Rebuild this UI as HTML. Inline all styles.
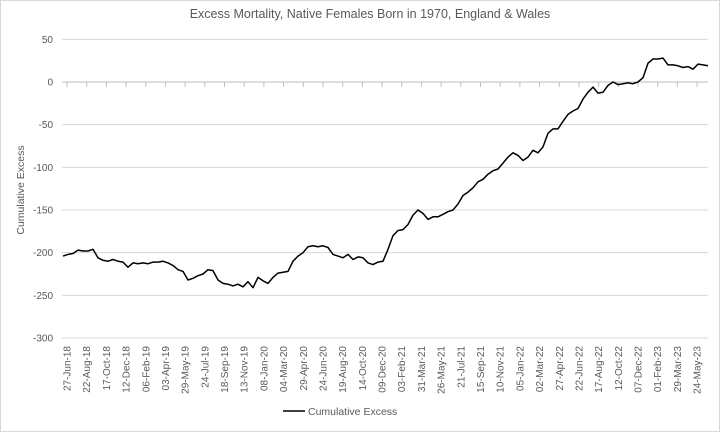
<!DOCTYPE html>
<html><head><meta charset="utf-8"><style>
body{margin:0;background:#fff;}
svg text{font-family:"Liberation Sans",sans-serif;fill:#595959;}
</style></head><body>
<svg id="chart" width="720" height="432" viewBox="0 0 720 432" xmlns="http://www.w3.org/2000/svg">
<rect x="0.5" y="0.5" width="719" height="431" fill="#fff" stroke="#d9d9d9"/>
<text x="370" y="18" text-anchor="middle" font-size="12.5">Excess Mortality, Native Females Born in 1970, England &amp; Wales</text>
<text transform="translate(24,190) rotate(-90)" text-anchor="middle" font-size="10.5">Cumulative Excess</text>
<g id="grid"></g><g id="yt"></g><g id="xt"></g><g id="ln"></g>
<line x1="283" y1="411" x2="305" y2="411" stroke="#000" stroke-width="1.6"/>
<text x="308" y="415" font-size="10.5">Cumulative Excess</text>
</svg>
<script>
const yTicks=[50,0,-50,-100,-150,-200,-250,-300];
const xLabels=["27-Jun-18","22-Aug-18","17-Oct-18","12-Dec-18","06-Feb-19","03-Apr-19","29-May-19","24-Jul-19","18-Sep-19","13-Nov-19","08-Jan-20","04-Mar-20","29-Apr-20","24-Jun-20","19-Aug-20","14-Oct-20","09-Dec-20","03-Feb-21","31-Mar-21","26-May-21","21-Jul-21","15-Sep-21","10-Nov-21","05-Jan-22","02-Mar-22","27-Apr-22","22-Jun-22","17-Aug-22","12-Oct-22","07-Dec-22","01-Feb-23","29-Mar-23","24-May-23"];
const values=[-204,-202,-201,-197,-198,-198,-196,-206,-209,-210,-208,-210,-211,-217,-212,-213,-212,-213,-211,-211,-210,-212,-215,-220,-222,-232,-230,-227,-225,-220,-221,-232,-236,-237,-239,-237,-240,-234,-241,-229,-233,-236,-229,-224,-223,-222,-210,-204,-200,-193,-192,-193,-192,-194,-202,-204,-206,-202,-208,-205,-206,-212,-214,-211,-210,-196,-180,-174,-173,-167,-156,-150,-154,-161,-158,-158,-155,-152,-150,-143,-133,-129,-124,-117,-114,-108,-104,-102,-95,-88,-83,-86,-92,-88,-80,-83,-76,-60,-55,-55,-46,-38,-34,-31,-20,-12,-6,-13,-12,-4,0,-3,-2,-1,-2,0,5,22,27,27,28,20,20,19,17,18,15,21,20,19];
const NS="http://www.w3.org/2000/svg";
const X0=62,X1=708,Y=v=>82-(v)*42.667/50;
const xl=i=>67+i*19.69;
const xv=i=>63+i*(708-63)/(values.length-1);
function mk(t,a,p){const e=document.createElementNS(NS,t);for(const k in a)e.setAttribute(k,a[k]);p.appendChild(e);return e;}
const grid=document.getElementById('grid'),yt=document.getElementById('yt'),xt=document.getElementById('xt'),ln=document.getElementById('ln');
yTicks.forEach(v=>{
 const g=mk('line',{x1:X0,x2:X1,y1:Y(v),y2:Y(v),stroke:v===0?'#bfbfbf':'#d9d9d9','stroke-width':1},grid);
 
 
 const t=mk('text',{x:53,y:Y(v)+3.5,'text-anchor':'end','font-size':10},yt);t.textContent=v;
 
 
});
xLabels.forEach((s,i)=>{
 const tk=mk('line',{x1:xl(i),x2:xl(i),y1:82,y2:87,stroke:'#bfbfbf'},xt);
 
 
 const t=mk('text',{transform:`translate(${xl(i)+3.5},346) rotate(-90)`,'text-anchor':'end','font-size':10},xt);t.textContent=s;
 
 
});
const p=mk('polyline',{points:values.map((v,i)=>xv(i).toFixed(1)+','+Y(v).toFixed(1)).join(' '),fill:'none',stroke:'#000','stroke-width':1.5,'stroke-linejoin':'round'},ln);


</script>
</body></html>
